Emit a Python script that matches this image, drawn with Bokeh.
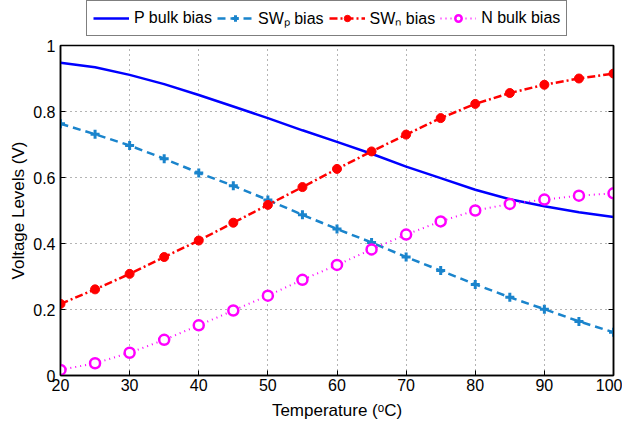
from bokeh.plotting import figure
from bokeh.layouts import column
from bokeh.models import (Legend, LegendItem, LinearAxis, FixedTicker, Range1d)
from bokeh.embed import file_html
from bokeh.resources import INLINE

temperature = [20, 25, 30, 35, 40, 45, 50, 55, 60, 65, 70, 75, 80, 85, 90, 95, 100]
p_bulk_bias = [0.948, 0.934, 0.911, 0.883, 0.850, 0.815, 0.780, 0.743, 0.708, 0.672,
               0.633, 0.598, 0.563, 0.534, 0.513, 0.495, 0.480]
swp_bias = [0.763, 0.731, 0.697, 0.657, 0.614, 0.575, 0.532, 0.487, 0.444, 0.403,
            0.359, 0.318, 0.276, 0.237, 0.201, 0.164, 0.131]
swn_bias = [0.217, 0.261, 0.308, 0.359, 0.409, 0.463, 0.517, 0.571, 0.626, 0.679,
            0.730, 0.780, 0.823, 0.856, 0.881, 0.900, 0.915]
n_bulk_bias = [0.017, 0.037, 0.069, 0.108, 0.152, 0.197, 0.242, 0.290, 0.335, 0.382,
               0.427, 0.467, 0.500, 0.520, 0.533, 0.545, 0.552]
series_names = ["P bulk bias", "SW\u209a bias", "SW\u2099 bias", "N bulk bias"]

x_ticks = [20, 30, 40, 50, 60, 70, 80, 90, 100]
y_ticks = [0, 0.2, 0.4, 0.6, 0.8, 1]
y_tick_labels = {0: "0", 1: "1"}

FONT = "Liberation Sans"
c_p = "#0000ff"
c_swp = "#1a84cc"
c_swn = "#ff0000"
c_n = "#ff00ff"


def draw_series(fig):
    r1 = fig.line(temperature, p_bulk_bias, line_color=c_p, line_width=2.5)
    r2l = fig.line(temperature, swp_bias, line_color=c_swp, line_width=2.5, line_dash="8 5")
    r2m = fig.scatter(temperature, swp_bias, marker="cross", size=9, line_color=c_swp, line_width=3)
    r3l = fig.line(temperature, swn_bias, line_color=c_swn, line_width=2.5, line_dash="8 3 2 3")
    r3m = fig.scatter(temperature, swn_bias, marker="circle", size=9, fill_color=c_swn, line_color=c_swn)
    r4l = fig.line(temperature, n_bulk_bias, line_color=c_n, line_width=2, line_dash="1 4")
    r4m = fig.scatter(temperature, n_bulk_bias, marker="circle", size=10, fill_color="white",
                      line_color=c_n, line_width=2.5)
    return [[r1], [r2l, r2m], [r3l, r3m], [r4l, r4m]]


# main chart
p = figure(width=622, height=385, output_backend="svg", toolbar_location=None,
           x_range=Range1d(20, 100), y_range=Range1d(0, 1),
           min_border_left=60, min_border_right=9, min_border_top=8, min_border_bottom=47)
p.background_fill_color = "white"
p.outline_line_color = "black"
p.outline_line_width = 1.5
draw_series(p)

for ax in (p.xaxis[0], p.yaxis[0]):
    ax.axis_line_color = "black"
    ax.axis_line_width = 1.5
    ax.major_tick_in = 5
    ax.major_tick_out = 0
    ax.minor_tick_line_color = None
    ax.major_label_text_font = FONT
    ax.major_label_text_font_size = "16px"
    ax.major_label_text_color = "black"
    ax.axis_label_text_font = FONT
    ax.axis_label_text_font_size = "17px"
    ax.axis_label_text_font_style = "normal"
    ax.axis_label_text_color = "black"

p.xaxis.ticker = FixedTicker(ticks=x_ticks)
p.yaxis.ticker = FixedTicker(ticks=y_ticks)
p.yaxis.major_label_overrides = y_tick_labels
p.xaxis.axis_label = "Temperature (\u1d52C)"
p.yaxis.axis_label = "Voltage Levels (V)"
p.xaxis.major_label_standoff = 3
p.yaxis.major_label_standoff = 5
p.xaxis.axis_label_standoff = 7
p.yaxis.axis_label_standoff = 2

right = LinearAxis(ticker=FixedTicker(ticks=y_ticks), major_tick_in=5, major_tick_out=0,
                   minor_tick_line_color=None, axis_line_color="black", axis_line_width=1.5,
                   major_label_standoff=0,
                   major_label_overrides={t: "" for t in y_ticks})
p.add_layout(right, "right")

p.xgrid.ticker = FixedTicker(ticks=x_ticks)
p.ygrid.ticker = FixedTicker(ticks=y_ticks)
for g in (p.xgrid[0], p.ygrid[0]):
    g.grid_line_color = "#444444"
    g.grid_line_dash = "1 4"
    g.grid_line_width = 1
    g.grid_line_alpha = 0.8

# legend strip above the chart: same series drawn off-view so only the legend shows
leg_fig = figure(width=622, height=37, output_backend="svg", toolbar_location=None,
                 x_axis_type=None, y_axis_type=None,
                 x_range=Range1d(0, 1), y_range=Range1d(0, 1),
                 min_border_left=0, min_border_right=0, min_border_top=0, min_border_bottom=0)
leg_fig.outline_line_color = None
leg_fig.grid.visible = False
leg_rs = draw_series(leg_fig)

legend = Legend(items=[LegendItem(label=n, renderers=r) for n, r in zip(series_names, leg_rs)],
                orientation="horizontal", location=(26, 1))
legend.label_text_font = FONT
legend.label_text_font_size = "16px"
legend.label_text_color = "black"
legend.border_line_color = "black"
legend.border_line_width = 1.5
legend.background_fill_color = "white"
legend.glyph_width = 36
legend.glyph_height = 16
legend.label_standoff = 5
legend.spacing = 5
legend.padding = 6
legend.margin = 0
leg_fig.add_layout(legend)

layout = column(leg_fig, p, spacing=0)

with open("out.html", "w") as f:
    f.write(file_html(layout, INLINE))
